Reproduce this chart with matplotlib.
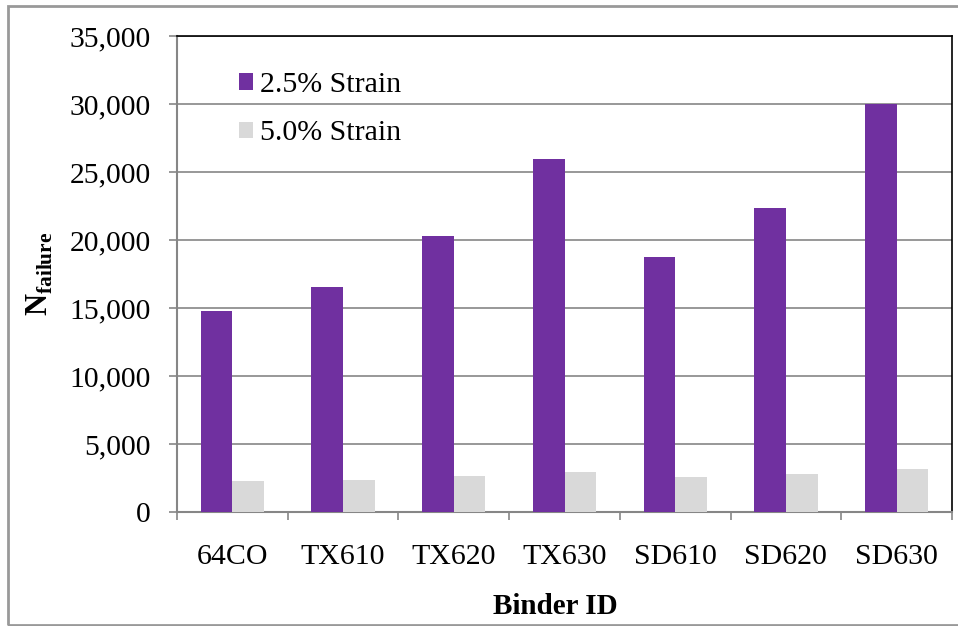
import matplotlib.pyplot as plt
import numpy as np
from matplotlib.patches import Rectangle
from matplotlib.ticker import FuncFormatter

plt.rcParams["font.family"] = "Liberation Serif"
plt.rcParams["mathtext.fontset"] = "custom"
plt.rcParams["mathtext.rm"] = "Liberation Serif"
plt.rcParams["mathtext.bf"] = "Liberation Serif:bold"

binders = ["64CO", "TX610", "TX620", "TX630", "SD610", "SD620", "SD630"]
strain_25 = [14800, 16600, 20300, 26000, 18750, 22400, 30000]
strain_50 = [2300, 2350, 2650, 2950, 2600, 2800, 3200]

fig = plt.figure(figsize=(9.58, 6.26), dpi=100)
ax = fig.add_axes([0.1848, 0.1816, 0.8089, 0.7604])

x = np.arange(len(binders))
w = 0.286
ax.bar(x - w / 2, strain_25, w, color="#7030A0", label="2.5% Strain", zorder=3)
ax.bar(x + w / 2, strain_50, w, color="#D9D9D9", label="5.0% Strain", zorder=3)

ax.set_xlim(-0.5, len(binders) - 0.5)
ax.set_ylim(0, 35000)
ax.set_yticks(np.arange(0, 35001, 5000))
ax.yaxis.set_major_formatter(FuncFormatter(lambda v, p: f"{int(v):,}"))
ax.grid(axis="y", color="#868686", linewidth=1.2, zorder=0)

# category labels at centers, tick marks between categories
ax.set_xticks(x)
ax.set_xticklabels(binders)
ax.set_xticks(np.arange(-0.5, len(binders)), minor=True)
ax.tick_params(axis="x", which="major", length=0, pad=23, labelsize=21.5)
ax.tick_params(axis="x", which="minor", length=6, width=1.2, color="#868686", direction="out")
ax.tick_params(axis="y", length=6, width=1.2, color="#868686", pad=13, labelsize=21.3)

for side in ["left", "bottom"]:
    ax.spines[side].set_color("#868686")
    ax.spines[side].set_linewidth(1.5)
for side in ["top", "right"]:
    ax.spines[side].set_color("black")
    ax.spines[side].set_linewidth(1.2)

ax.set_ylabel(r"$\mathbf{N}_{\mathbf{failure}}$", fontsize=22, labelpad=10)
fig.text(0.5795, 1 - 606 / 626, "Binder ID", fontsize=21, fontweight="bold",
         ha="center", va="center")

ax.legend(loc="upper left", bbox_to_anchor=(0.08, 0.925), frameon=False,
          fontsize=21.5, handlelength=0.47, handleheight=0.47, handletextpad=0.22,
          borderpad=0, borderaxespad=0, labelspacing=0.75)

# chart border
fig.patches.append(Rectangle((8 / 958, 1.5 / 626), 1.2, 1 - 7 / 626,
                             transform=fig.transFigure, fill=False,
                             edgecolor="#999999", linewidth=2))

fig.savefig("out.png", dpi=100)
